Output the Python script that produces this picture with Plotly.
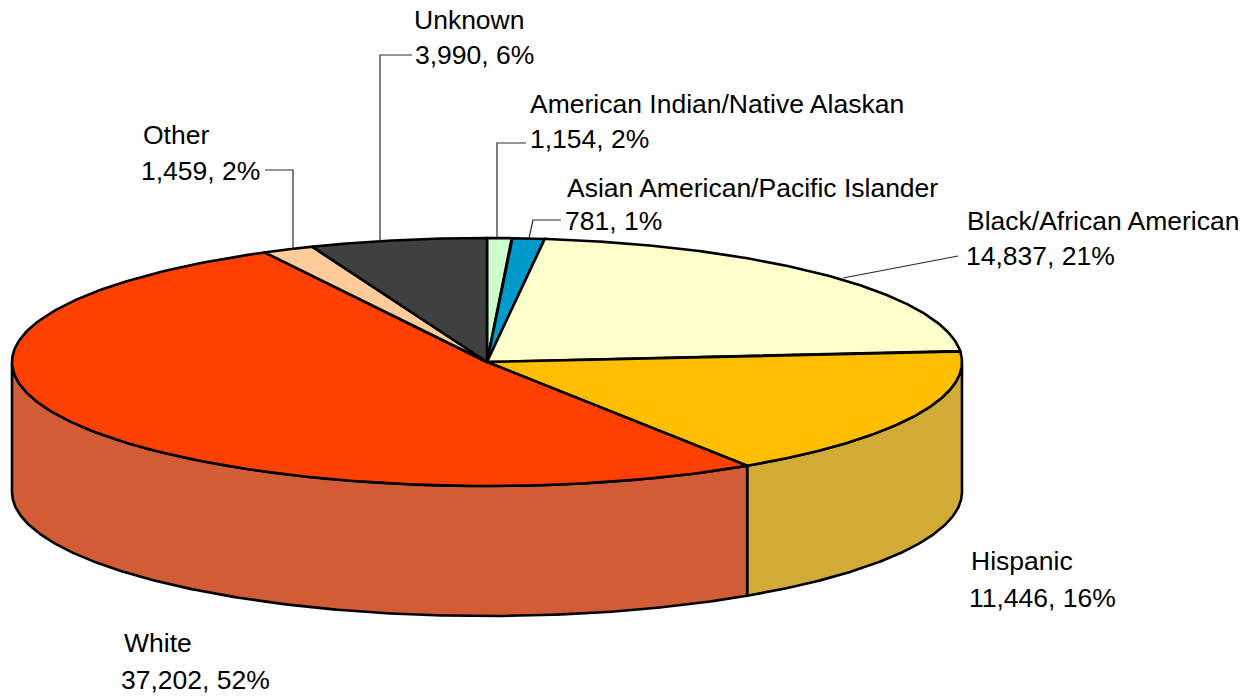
import numpy as np
import plotly.graph_objects as go

# Data, clockwise from 12 o'clock
categories = ["American Indian/Native Alaskan", "Asian American/Pacific Islander",
              "Black/African American", "Hispanic", "White", "Other", "Unknown"]
counts = [1154, 781, 14837, 11446, 37202, 1459, 3990]
# Slice sizes (percent of the pie) as actually drawn in the picture; the source
# chart does not draw them exactly in proportion to the printed counts.
drawn_shares = [0.83, 1.11, 21.64, 17.19, 51.47, 1.75, 6.0]
top_colors = ["#CCFFCC", "#0099CC", "#FFFFCC", "#FFBF00", "#FF4000", "#FFCC99", "#404040"]
side_colors = ["#A3CCA3", "#007AA3", "#CCCCA3", "#D2AB36", "#D15C36", "#CCA37A", "#333333"]

# Geometry of the 3-D pie (pixel-like data space)
CX, CY, RX, RY, DEPTH = 487, 362, 475, 124, 130


def rim(a, dy=0.0):
    return CX + RX * np.sin(a), CY - RY * np.cos(a) + dy


total = sum(counts)
edges = 2 * np.pi * np.concatenate([[0], np.cumsum(drawn_shares)]) / sum(drawn_shares)

fig = go.Figure()
LINE = dict(color="#000000", width=2.6)

# Side walls (only the front half of the rim is visible)
for i, name in enumerate(categories):
    lo, hi = max(edges[i], np.pi / 2), min(edges[i + 1], 3 * np.pi / 2)
    if hi <= lo:
        continue
    a = np.linspace(lo, hi, 240)
    x1, y1 = rim(a)
    x2, y2 = rim(a[::-1], DEPTH)
    fig.add_trace(go.Scatter(
        x=np.concatenate([x1, x2, x1[:1]]), y=np.concatenate([y1, y2, y1[:1]]),
        mode="lines", fill="toself", fillcolor=side_colors[i], line=LINE,
        hoverinfo="skip", showlegend=False))

# Top faces
for i, name in enumerate(categories):
    a = np.linspace(edges[i], edges[i + 1], 240)
    x1, y1 = rim(a)
    fig.add_trace(go.Scatter(
        x=np.concatenate([[CX], x1, [CX]]), y=np.concatenate([[CY], y1, [CY]]),
        mode="lines", fill="toself", fillcolor=top_colors[i], line=LINE,
        name=name, text=f"{name}: {counts[i]:,}", hoverinfo="text", showlegend=False))

# Label placement: left edge x, first line y, second line x, second line y
label_pos = {
    "American Indian/Native Alaskan": (530, 104, 530, 139),
    "Asian American/Pacific Islander": (567, 188, 565, 221),
    "Black/African American": (967, 221, 966, 256),
    "Hispanic": (971, 561, 969, 598),
    "White": (124, 643, 121, 680),
    "Other": (143, 135, 141, 171),
    "Unknown": (414, 20, 415, 55),
}
FONT = dict(family="Liberation Sans, Arial, sans-serif", size=26.5, color="#000000")
annotations = []
for name, v in zip(categories, counts):
    x1, y1, x2, y2 = label_pos[name]
    for x, y, s in ((x1, y1, name), (x2, y2, f"{v:,}, {round(100 * v / total)}%")):
        annotations.append(dict(x=x, y=y, text=s, xref="x", yref="y", xanchor="left", yanchor="middle",
                                showarrow=False, font=FONT, borderpad=0, borderwidth=0))

# Leader lines
leaders = ["M 380 241 L 380 55 L 412 55", "M 293 250 L 293 170 L 265 170",
           "M 497 238 L 497 143 L 526 143", "M 529 238 L 533 220 L 561 220",
           "M 843 278 L 958 256"]
shapes = [dict(type="path", path=p, xref="x", yref="y", line=dict(color="#2A2A2A", width=1.2)) for p in leaders]

fig.update_layout(
    width=1253, height=698, margin=dict(l=0, r=0, t=0, b=0, pad=0),
    paper_bgcolor="#FFFFFF", plot_bgcolor="#FFFFFF", showlegend=False,
    xaxis=dict(range=[0, 1253], visible=False, fixedrange=True),
    yaxis=dict(range=[698, 0], visible=False, fixedrange=True),
    annotations=annotations, shapes=shapes,
)
fig.write_html("out.html", config={"displayModeBar": False},
               post_script="document.body.style.margin='0';document.body.style.overflow='hidden';")
